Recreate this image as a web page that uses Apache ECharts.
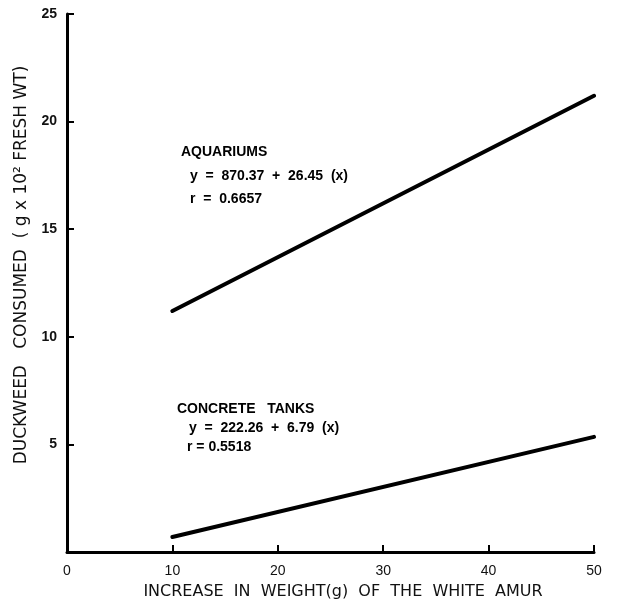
<!DOCTYPE html>
<html>
<head>
<meta charset="utf-8">
<script src="https://cdn.jsdelivr.net/npm/echarts@6/dist/echarts.min.js"></script>
<style>html,body{margin:0;padding:0;background:#fff;}#c{width:624px;height:601px;}</style>
</head>
<body>
<div id="c"></div>
<script>
var xTicks = [0, 10, 20, 30, 40, 50];
var yTicks = [0, 5, 10, 15, 20, 25];
var aquariumX = [10, 50];
var aquariumY = [11.2, 21.2];
var concreteX = [10, 50];
var concreteY = [0.7, 5.35];
var xTitle = 'INCREASE  IN  WEIGHT(g)  OF  THE  WHITE  AMUR';
var yTitle = 'DUCKWEED   CONSUMED  ( g x 10² FRESH WT)';
var aqLabel = ['AQUARIUMS', 'y  =  870.37  +  26.45  (x)', 'r  =  0.6657'];
var ctLabel = ['CONCRETE   TANKS', 'y  =  222.26  +  6.79  (x)', 'r = 0.5518'];

function pairs(xs, ys) { return xs.map(function (x, i) { return [x, ys[i]]; }); }

var font = 'Liberation Sans, Arial, sans-serif';
var wide = 'DejaVu Sans, Verdana, sans-serif';
var chart = echarts.init(document.getElementById('c'));
chart.setOption({
  animation: false,
  grid: { left: 67, right: 30, top: 14, bottom: 49, containLabel: false },
  xAxis: {
    type: 'value', min: xTicks[0], max: xTicks[xTicks.length - 1], interval: 10,
    axisLine: { onZero: false, lineStyle: { color: '#000', width: 3 } },
    axisTick: { inside: true, length: 7, lineStyle: { color: '#000', width: 2 } },
    axisLabel: { color: '#111', fontSize: 14, fontFamily: font, margin: 12 },
    splitLine: { show: false }
  },
  yAxis: {
    type: 'value', min: yTicks[0], max: yTicks[yTicks.length - 1], interval: 5,
    axisLine: { onZero: false, lineStyle: { color: '#000', width: 3 } },
    axisTick: { inside: true, length: 7, lineStyle: { color: '#000', width: 2 } },
    axisLabel: { color: '#111', fontSize: 14, fontFamily: font, margin: 10, fontWeight: 'bold', showMinLabel: false },
    splitLine: { show: false }
  },
  series: [
    { type: 'line', data: pairs(aquariumX, aquariumY), symbol: 'none', lineStyle: { color: '#000', width: 4, cap: 'round' } },
    { type: 'line', data: pairs(concreteX, concreteY), symbol: 'none', lineStyle: { color: '#000', width: 4, cap: 'round' } }
  ],
  graphic: [
    { type: 'text', left: 181, top: 145, style: { text: aqLabel[0], font: 'bold 14px ' + font, fill: '#000' } },
    { type: 'text', left: 190, top: 169, style: { text: aqLabel[1], font: 'bold 14px ' + font, fill: '#000' } },
    { type: 'text', left: 190, top: 192, style: { text: aqLabel[2], font: 'bold 14px ' + font, fill: '#000' } },
    { type: 'text', left: 177, top: 402, style: { text: ctLabel[0], font: 'bold 14px ' + font, fill: '#000' } },
    { type: 'text', left: 189, top: 421, style: { text: ctLabel[1], font: 'bold 14px ' + font, fill: '#000' } },
    { type: 'text', left: 187, top: 440, style: { text: ctLabel[2], font: 'bold 14px ' + font, fill: '#000' } },
    { type: 'text', x: 343, y: 592, style: { text: xTitle, font: '16px ' + wide, fill: '#111', align: 'center', verticalAlign: 'middle' } },
    { type: 'text', x: 22, y: 265, rotation: Math.PI / 2, style: { text: yTitle, font: '17px ' + wide, fill: '#111', align: 'center', verticalAlign: 'middle' } }
  ]
});
</script>
</body>
</html>
